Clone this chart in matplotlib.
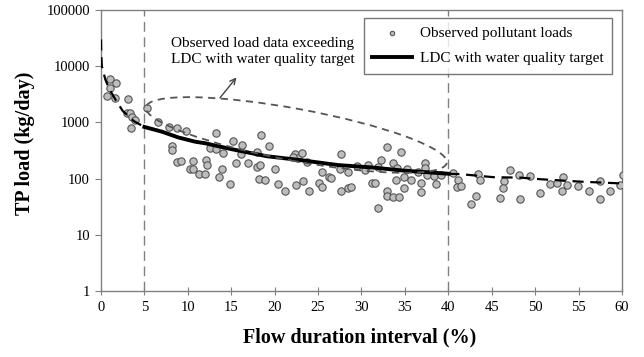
import numpy as np
import matplotlib
matplotlib.use("Agg")
import matplotlib.pyplot as plt
from matplotlib.patches import Ellipse
from matplotlib.transforms import IdentityTransform
from matplotlib.ticker import FixedLocator, FuncFormatter, NullLocator

plt.rcParams['font.family'] = ['Liberation Serif', 'DejaVu Serif']

# ---- data ----
obs_x = [0.73, 1.04, 1.73, 1.04, 1.6, 3.07, 2.96, 3.34, 3.6, 3.9, 3.5,
         5.26, 6.6, 7.83, 8.72, 9.75, 8.14, 8.14, 8.72, 9.2, 10.56, 10.2, 10.6, 11.3, 12.0,
         13.25, 15.2, 16.2, 18.4, 19.4, 12.5, 13.25, 14.0, 16.1, 18.0, 12.1, 12.2,
         13.9, 13.6, 14.8, 15.6, 16.9, 18.0, 18.3, 18.2, 18.9, 20.0, 20.4, 21.2, 22.4,
         23.3, 23.9, 22.35, 22.7, 23.2, 23.7, 22.1,
         27.65, 32.9, 34.5, 25.4, 27.5, 28.5, 29.5, 30.4, 30.8, 32.2, 31.9, 33.6, 34.1,
         35.2, 26.2, 26.5, 25.1, 25.4, 27.6, 28.5, 28.8, 31.2, 31.6, 34.0, 34.9, 34.9,
         35.7, 32.9, 32.9, 33.6, 34.3, 31.9,
         36.55, 37.3, 37.3, 37.5, 38.4, 39.2, 36.9, 38.6, 36.9, 40.5,
         41.1, 41.0, 41.5, 43.2, 42.6, 43.4, 43.7, 47.1, 46.4, 46.35, 46.0, 48.1, 49.4,
         48.3, 50.6, 51.7, 52.5, 53.2, 53.1, 53.7, 54.9, 56.25, 57.5, 57.5, 58.6, 59.8, 60.1]
obs_y = [3000, 5900, 5100, 4100, 2700, 2650, 1490, 1450, 1260, 1100, 790,
         1820, 1030, 830, 790, 710, 380, 320, 195, 205, 205, 146, 150, 120, 122,
         660, 470, 400, 600, 380, 350, 330, 290, 275, 300, 210, 175,
         146, 105, 80, 187, 190, 158, 175, 100, 94, 146, 80, 59, 78,
         89, 60, 275, 230, 290, 200, 240,
         270, 370, 300, 132, 146, 132, 166, 141, 178, 210, 158, 187, 152,
         146, 107, 104, 85, 72, 60, 67, 70, 85, 83, 94, 107, 67,
         94, 59, 49, 48, 47, 30,
         131, 191, 155, 115, 112, 115, 83, 80, 58, 124,
         94, 72, 74, 49, 36, 120, 94, 142, 91, 67, 45, 115, 112,
         44, 55, 80, 85, 105, 61, 78, 74, 60, 89, 43, 60, 78, 115]

ldc_high_x = [0.0, 0.03, 0.1, 0.5, 1.0, 1.7, 2.5, 3.8, 5.0]
ldc_high_y = [30000, 16000, 10000, 5800, 3800, 2500, 1600, 1050, 830]
ldc_mid_x = [5.0, 7.0, 8.9, 10.8, 12.0, 15.2, 19.1, 22.9, 27.3, 31.2, 35.0, 37.5, 40.0]
ldc_mid_y = [830, 685, 540, 455, 425, 330, 250, 214, 174, 158, 138, 130, 122]
ldc_low_x = [40.0, 41.4, 45.2, 48.3, 50.8, 55.4, 59.2, 60.0]
ldc_low_y = [122, 120, 106, 104, 97, 88, 83, 82]

x_ticks = list(range(0, 61, 5))
y_ticks = [1, 10, 100, 1000, 10000, 100000]
zone_bounds = [5, 40]

fig = plt.figure(figsize=(6.44, 3.57), dpi=100)
ax = fig.add_axes([101/644, 1 - 291/357, 521/644, 281/357])

ax.set_yscale('log')
ax.set_xlim(0, 60)
ax.set_ylim(1, 100000)

for xb in zone_bounds:
    ax.axvline(xb, color='#808080', lw=1.0, ls=(0, (7, 4)), zorder=1)

ax.scatter(obs_x, obs_y, s=28, facecolor='#bdbdbd', edgecolor='#555555',
           linewidths=0.8, zorder=3, label='Observed pollutant loads')
ax.plot(ldc_high_x, ldc_high_y, color='black', lw=1.6, ls=(0, (5, 3)), zorder=4)
ax.plot(ldc_mid_x, ldc_mid_y, color='black', lw=2.8, zorder=4,
        label='LDC with water quality target')
ax.plot(ldc_low_x, ldc_low_y, color='black', lw=1.6, ls=(0, (5, 3)), zorder=4)

# annotation ellipse (display px)
cen = ax.transData.transform((22.5, 597))
ell = Ellipse(cen, width=306, height=52, angle=-10.5, fill=False,
              edgecolor='#555555', lw=1.3, ls=(0, (4, 3)), transform=IdentityTransform(),
              zorder=2)
fig.add_artist(ell)

ax.annotate('', xy=(15.8, 6900), xytext=(13.5, 2500),
            arrowprops=dict(arrowstyle='->', color='#444444', lw=1.0))
ax.text(8.07, 33000, 'Observed load data exceeding\nLDC with water quality target',
        fontsize=11, va='top', ha='left', linespacing=1.25)

ax.xaxis.set_major_locator(FixedLocator(x_ticks))
ax.yaxis.set_major_locator(FixedLocator(y_ticks))
ax.yaxis.set_minor_locator(NullLocator())
ax.yaxis.set_major_formatter(FuncFormatter(lambda v, p: '%d' % v))
ax.tick_params(axis='x', direction='inout', length=6, color='#808080', labelsize=10.5, pad=4)
ax.tick_params(axis='y', direction='out', length=4, color='#808080', labelsize=10.5, pad=4)
for sp in ax.spines.values():
    sp.set_color('#808080')
    sp.set_linewidth(1.0)

ax.set_xlabel('Flow duration interval (%)', fontsize=14.5, fontweight='bold', va='center')
ax.xaxis.set_label_coords(0.497, -0.164)
ax.set_ylabel('TP load (kg/day)', fontsize=14.5, fontweight='bold', va='center')
ax.yaxis.set_label_coords(-0.146, 0.525)

leg = ax.legend(loc='upper right', bbox_to_anchor=(0.981, 0.9715), borderaxespad=0,
                fontsize=11, frameon=True, fancybox=False, edgecolor='#555555',
                markerscale=0.6, handlelength=2.6, handletextpad=0.5,
                borderpad=0.57, labelspacing=0.72)
leg.get_frame().set_linewidth(1.0)

fig.savefig('out.png', dpi=100)
